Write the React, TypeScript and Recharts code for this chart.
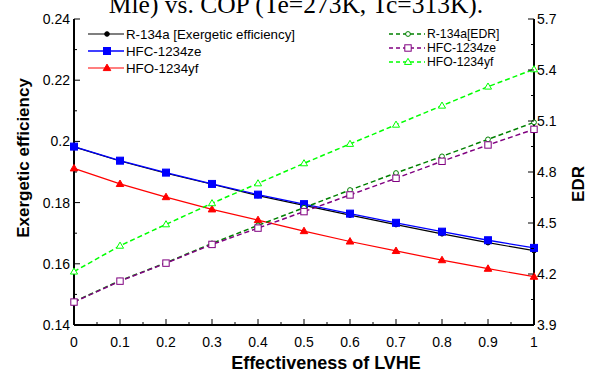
import { ComposedChart, Line, XAxis, YAxis } from 'recharts';

// effectiveness of LVHE
const effectiveness = [0, 0.1, 0.2, 0.3, 0.4, 0.5, 0.6, 0.7, 0.8, 0.9, 1];

// exergetic efficiency (left axis)
const r134aEx = [0.1982, 0.1936, 0.1896, 0.186, 0.1823, 0.1791, 0.1759, 0.1728, 0.1698, 0.1669, 0.1643];
const hfc1234zeEx = [0.1983, 0.1937, 0.1898, 0.1861, 0.1826, 0.1795, 0.1764, 0.1734, 0.1705, 0.1677, 0.1652];
const hfo1234yfEx = [0.1912, 0.1861, 0.1818, 0.1778, 0.1743, 0.1707, 0.1673, 0.1642, 0.1612, 0.1584, 0.1558];

// EDR (right axis)
const r134aEdr = [4.037, 4.161, 4.266, 4.38, 4.486, 4.59, 4.694, 4.794, 4.892, 4.992, 5.092];
const hfc1234zeEdr = [4.035, 4.158, 4.264, 4.374, 4.47, 4.567, 4.665, 4.763, 4.863, 4.959, 5.051];
const hfo1234yfEdr = [4.214, 4.366, 4.492, 4.616, 4.733, 4.851, 4.965, 5.078, 5.19, 5.302, 5.404];

const xTicks = [0, 0.05, 0.1, 0.15, 0.2, 0.25, 0.3, 0.35, 0.4, 0.45, 0.5, 0.55, 0.6, 0.65, 0.7, 0.75, 0.8, 0.85, 0.9, 0.95, 1];
const leftTicks = [0.14, 0.15, 0.16, 0.17, 0.18, 0.19, 0.2, 0.21, 0.22, 0.23, 0.24];
const rightTicks = [3.9, 4.05, 4.2, 4.35, 4.5, 4.65, 4.8, 4.95, 5.1, 5.25, 5.4, 5.55, 5.7];

const data = effectiveness.map((x, i) => ({
  x,
  r134aEx: r134aEx[i],
  hfc1234zeEx: hfc1234zeEx[i],
  hfo1234yfEx: hfo1234yfEx[i],
  r134aEdr: r134aEdr[i],
  hfc1234zeEdr: hfc1234zeEdr[i],
  hfo1234yfEdr: hfo1234yfEdr[i],
}));

const FONT = '"Liberation Sans", Arial, sans-serif';

const isMajor = (v: number, step: number) => {
  const k = v / step;
  return Math.abs(k - Math.round(k)) < 1e-6;
};

const fmt = (v: number) => String(Number(v.toFixed(2)));

// ticks point inward, so draw the tick line ourselves
const BottomTick = (props: any) => {
  const { x, y, payload } = props;
  const major = isMajor(payload.value, 0.1);
  return (
    <g>
      <line x1={x} y1={y} x2={x} y2={y - (major ? 6 : 3)} stroke="#000" strokeWidth={1} />
      {major && (
        <text x={x} y={y + 22} textAnchor="middle" fontSize={14} fontFamily={FONT} fill="#000">
          {fmt(payload.value)}
        </text>
      )}
    </g>
  );
};

const TopTick = (props: any) => {
  const { x, y, payload } = props;
  const major = isMajor(payload.value, 0.1);
  return <line x1={x} y1={y} x2={x} y2={y + (major ? 6 : 3)} stroke="#000" strokeWidth={1} />;
};

const LeftTick = (props: any) => {
  const { x, y, payload } = props;
  const major = isMajor(payload.value - 0.14, 0.02);
  return (
    <g>
      <line x1={x} y1={y} x2={x + (major ? 6 : 3)} y2={y} stroke="#000" strokeWidth={1} />
      {major && (
        <text x={x - 4} y={y + 5} textAnchor="end" fontSize={14} fontFamily={FONT} fill="#000">
          {fmt(payload.value)}
        </text>
      )}
    </g>
  );
};

const RightTick = (props: any) => {
  const { x, y, payload } = props;
  const major = isMajor(payload.value - 3.9, 0.3);
  return (
    <g>
      <line x1={x} y1={y} x2={x - (major ? 6 : 3)} y2={y} stroke="#000" strokeWidth={1} />
      {major && (
        <text x={x + 3} y={y + 5} textAnchor="start" fontSize={14} fontFamily={FONT} fill="#000">
          {payload.value.toFixed(1)}
        </text>
      )}
    </g>
  );
};

type Shape = 'circle' | 'square' | 'triangle';

function Marker({ cx, cy, shape, color, filled, size }: { cx: number; cy: number; shape: Shape; color: string; filled: boolean; size: number }) {
  const fill = filled ? color : '#fff';
  if (shape === 'circle') return <circle cx={cx} cy={cy} r={size} fill={fill} stroke={color} strokeWidth={1} />;
  if (shape === 'square')
    return <rect x={cx - size} y={cy - size} width={size * 2} height={size * 2} fill={fill} stroke={color} strokeWidth={1} />;
  const h = size * 1.8;
  return (
    <polygon
      points={`${cx},${cy - h * 0.6} ${cx - size * 1.05},${cy + h * 0.4} ${cx + size * 1.05},${cy + h * 0.4}`}
      fill={fill}
      stroke={color}
      strokeWidth={1}
    />
  );
}

const makeDot = (shape: Shape, color: string, filled: boolean, size: number) => (p: any) =>
  <Marker key={p.index} cx={p.cx} cy={p.cy} shape={shape} color={color} filled={filled} size={size} />;

const series = [
  { key: 'r134aEx', axis: 'left', name: 'R-134a [Exergetic efficiency]', color: '#000000', shape: 'circle' as Shape, filled: true, size: 2.3, dash: undefined, width: 1.2 },
  { key: 'hfc1234zeEx', axis: 'left', name: 'HFC-1234ze', color: '#0000ff', shape: 'square' as Shape, filled: true, size: 3.5, dash: undefined, width: 1.3 },
  { key: 'hfo1234yfEx', axis: 'left', name: 'HFO-1234yf', color: '#ff0000', shape: 'triangle' as Shape, filled: true, size: 3.6, dash: undefined, width: 1.2 },
  { key: 'r134aEdr', axis: 'right', name: 'R-134a[EDR]', color: '#008000', shape: 'circle' as Shape, filled: false, size: 2.4, dash: '5 3', width: 1.5 },
  { key: 'hfc1234zeEdr', axis: 'right', name: 'HFC-1234ze', color: '#800080', shape: 'square' as Shape, filled: false, size: 3.2, dash: '5 3', width: 1.5 },
  { key: 'hfo1234yfEdr', axis: 'right', name: 'HFO-1234yf', color: '#00ff00', shape: 'triangle' as Shape, filled: false, size: 3.4, dash: '5 3', width: 1.5 },
];

function LegendBlock({ items, x, y, gap, fontSize }: { items: typeof series; x: number; y: number; gap: number; fontSize: number }) {
  return (
    <g>
      {items.map((s, i) => {
        const cy = y + i * gap;
        return (
          <g key={s.key}>
            <line x1={x} y1={cy} x2={x + 36} y2={cy} stroke={s.color} strokeWidth={s.width} strokeDasharray={s.dash ? '4 3' : undefined} />
            <Marker cx={x + 19} cy={cy} shape={s.shape} color={s.color} filled={s.filled} size={s.size} />
            <text x={x + 38} y={cy + fontSize * 0.36} fontSize={fontSize} fontFamily={FONT} fill="#000">
              {s.name}
            </text>
          </g>
        );
      })}
    </g>
  );
}

export default function App() {
  return (
    <div style={{ position: 'absolute', left: 0, top: 0, width: 592, height: 374, background: '#fff', overflow: 'hidden' }}>
      <ComposedChart width={592} height={374} data={data} margin={{ top: 19, right: 0, bottom: 0, left: 0 }}>
        <XAxis
          xAxisId="bottom"
          dataKey="x"
          type="number"
          domain={[0, 1]}
          ticks={xTicks}
          interval={0}
          height={49}
          tickSize={0}
          tickMargin={0}
          tick={BottomTick}
          axisLine={{ stroke: '#000', strokeWidth: 2 }}
          tickLine={false}
        />
        <XAxis
          xAxisId="top"
          orientation="top"
          dataKey="x"
          type="number"
          domain={[0, 1]}
          ticks={xTicks}
          interval={0}
          height={0}
          tickSize={0}
          tickMargin={0}
          tick={TopTick}
          axisLine={{ stroke: '#000', strokeWidth: 2 }}
          tickLine={false}
        />
        <YAxis
          yAxisId="left"
          orientation="left"
          type="number"
          domain={[0.14, 0.24]}
          ticks={leftTicks}
          interval={0}
          width={74}
          tickSize={0}
          tickMargin={0}
          tick={LeftTick}
          axisLine={{ stroke: '#000', strokeWidth: 2 }}
          tickLine={false}
        />
        <YAxis
          yAxisId="right"
          orientation="right"
          type="number"
          domain={[3.9, 5.7]}
          ticks={rightTicks}
          interval={0}
          width={58}
          tickSize={0}
          tickMargin={0}
          tick={RightTick}
          axisLine={{ stroke: '#000', strokeWidth: 2 }}
          tickLine={false}
        />
        {series.map((s) => (
          <Line
            key={s.key}
            xAxisId="bottom"
            yAxisId={s.axis}
            dataKey={s.key}
            type="linear"
            stroke={s.color}
            strokeWidth={s.width}
            strokeDasharray={s.dash}
            dot={makeDot(s.shape, s.color, s.filled, s.size)}
            activeDot={false}
            isAnimationActive={false}
          />
        ))}
      </ComposedChart>
      <svg width={592} height={374} style={{ position: 'absolute', left: 0, top: 0, pointerEvents: 'none' }}>
        {/* caption above the figure, clipped by the top edge as in the source */}
        <text x={296} y={12.5} textAnchor="middle" fontSize={25.5} fontFamily='"Liberation Serif", "Times New Roman", serif' fill="#000">
          Mle) vs. COP (Te=273K, Tc=313K).
        </text>
        <LegendBlock items={series.slice(0, 3)} x={88} y={34} gap={17} fontSize={13.3} />
        <LegendBlock items={series.slice(3)} x={389} y={34} gap={14} fontSize={12.2} />
        <text
          x={0}
          y={0}
          transform="translate(29,158) rotate(-90)"
          textAnchor="middle"
          fontSize={17}
          fontWeight="bold"
          fontFamily={FONT}
          fill="#000"
        >
          Exergetic efficiency
        </text>
        <text
          x={0}
          y={0}
          transform="translate(584,184) rotate(-90)"
          textAnchor="middle"
          fontSize={17}
          fontWeight="bold"
          fontFamily={FONT}
          fill="#000"
        >
          EDR
        </text>
        <text x={326} y={369} textAnchor="middle" fontSize={18} fontWeight="bold" fontFamily={FONT} fill="#000">
          Effectiveness of LVHE
        </text>
      </svg>
    </div>
  );
}
